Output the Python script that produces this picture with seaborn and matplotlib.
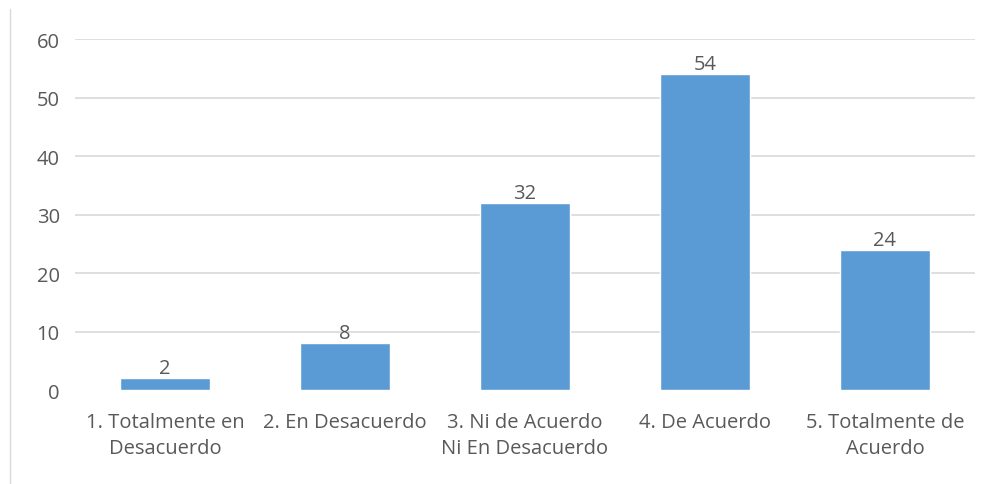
import matplotlib
matplotlib.use("Agg")
import matplotlib.pyplot as plt
import seaborn as sns
import pandas as pd
from matplotlib.lines import Line2D

categories = [
    "1. Totalmente en\nDesacuerdo",
    "2. En Desacuerdo",
    "3. Ni de Acuerdo\nNi En Desacuerdo",
    "4. De Acuerdo",
    "5. Totalmente de\nAcuerdo",
]
values = [2, 8, 32, 54, 24]
y_ticks = [0, 10, 20, 30, 40, 50, 60]

df = pd.DataFrame({"categoria": categories, "valor": values})

sns.set_theme(style="white")
plt.rcParams["font.family"] = ["Open Sans", "DejaVu Sans"]

text_color = "#595959"
bar_color = "#5B9BD5"
grid_color = "#D9D9D9"
fs = 14.5

fig = plt.figure(figsize=(9.9, 4.85), dpi=100)
ax = fig.add_axes([0.0758, 0.1938, 0.909, 0.7237])

sns.barplot(data=df, x="categoria", y="valor", color=bar_color,
            width=0.5, saturation=1, ax=ax, zorder=3)

ax.set_ylim(0, 60)
ax.set_yticks(y_ticks)
ax.set_xlim(-0.5, len(categories) - 0.5)
ax.yaxis.grid(True, color=grid_color, linewidth=1.2, zorder=0)
ax.set_axisbelow(True)
# no baseline at zero
ax.yaxis.get_gridlines()[0].set_visible(False)
for s in ax.spines.values():
    s.set_visible(False)

ax.set_xlabel("")
ax.set_ylabel("")
ax.tick_params(axis="y", length=0, pad=11, labelsize=fs, labelcolor=text_color)
ax.tick_params(axis="x", length=0, pad=16, labelsize=fs, labelcolor=text_color)
for lbl in ax.get_xticklabels():
    lbl.set_linespacing(1.4)

for container in ax.containers:
    ax.bar_label(container, labels=[str(v) for v in values], padding=0,
                 fontsize=fs, color=text_color)

# chart frame edge on the left
fig.add_artist(Line2D([10 / 990, 10 / 990], [0, 1 - 10 / 485],
                      transform=fig.transFigure, color="#D9D9D9", linewidth=1))

fig.savefig("out.png", dpi=100, facecolor="white")
